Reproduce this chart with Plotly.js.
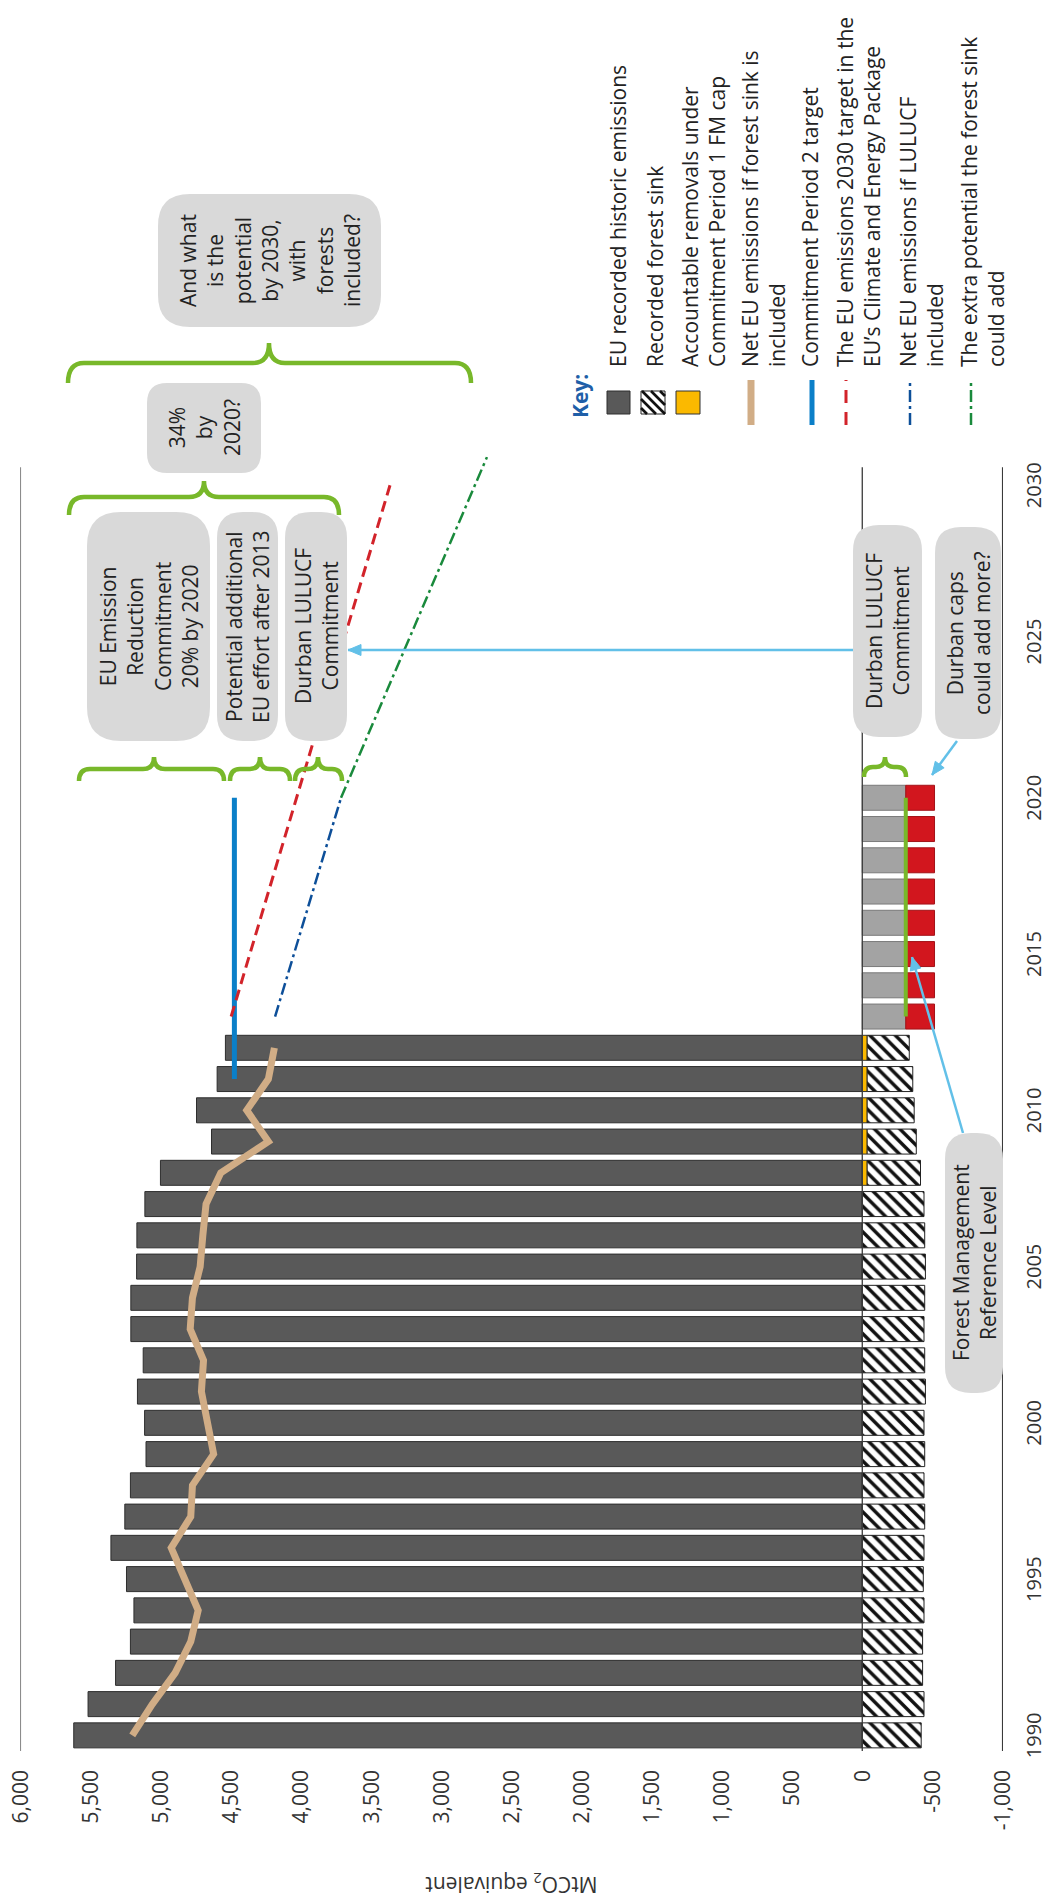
<!DOCTYPE html>
<html><head><meta charset="utf-8">
<script src="https://cdn.plot.ly/plotly-3.0.1.min.js"></script>
<style>
html,body{margin:0;padding:0;width:1057px;height:1899px;overflow:hidden;background:#fff;}
#wrap{position:absolute;left:0;top:1899px;width:1899px;height:1057px;transform-origin:0 0;transform:rotate(-90deg);}
#chart{width:1899px;height:1057px;}
</style></head><body><div id="wrap"><div id="chart"></div></div>
<script>
// ---------------- DATA ----------------
const years = [1990,1991,1992,1993,1994,1995,1996,1997,1998,1999,2000,2001,2002,2003,2004,2005,2006,2007,2008,2009,2010,2011,2012];
const emissions = [5620,5518,5322,5216,5191,5244,5355,5256,5216,5105,5115,5166,5125,5213,5213,5172,5170,5113,5002,4638,4745,4598,4539];
const forestSink = [-420,-440,-430,-430,-440,-435,-440,-445,-440,-445,-440,-450,-445,-440,-445,-450,-445,-440,-380,-350,-335,-325,-300];
const capYears = [2008,2009,2010,2011,2012];
const capRemovals = [-35,-35,-35,-35,-35];
const netEmissions = [5203,5060,4897,4786,4733,4827,4925,4786,4774,4623,4663,4710,4695,4790,4774,4719,4700,4677,4572,4233,4387,4233,4190];
const cp2Years = [2011,2020];
const cp2Target = [4475,4475];
const target2030Years = [2013,2030];
const target2030 = [4498,3366];
const lulucfYears = [2013,2020];
const lulucfNet = [4185,3715];
const extraYears = [2020,2030.9];
const extraPotential = [3715,2675];
const futureYears = [2013,2014,2015,2016,2017,2018,2019,2020];
const durbanCommitment = [-310,-310,-310,-310,-310,-310,-310,-310];
const durbanCaps = [-205,-205,-205,-205,-205,-205,-205,-205];
const fmrlLevel = [-310,-310,-310,-310,-310,-310,-310,-310];
const valueTicks = [-1000,-500,0,500,1000,1500,2000,2500,3000,3500,4000,4500,5000,5500,6000];
const valueTickLabels = ['-1,000','-500','0','500','1,000','1,500','2,000','2,500','3,000','3,500','4,000','4,500','5,000','5,500','6,000'];
const yearTicks = [1990,1995,2000,2005,2010,2015,2020,2025,2030];
const yearTickLabels = ['1990','1995','2000','2005','2010','2015','2020','2025','2030'];

// ---------------- GEOMETRY HELPERS (unrotated frame) ----------------
const FW=1899, FH=1057, ML=148, MR=454, MT=20, MB=54;
const PL=ML, PR=FW-MR, PT=MT, PB=FH-MB;
const px = u => (u-PL)/(PR-PL);
const py = v => (PB-v)/(PB-PT);
const P = (u,v) => px(u).toFixed(5)+','+py(v).toFixed(5);
const FONT = 'Open Sans, Noto Sans, sans-serif';
const TXT = '#222222';
const GREEN = '#78b82a';

function roundRect(u0,v0,u1,v1,r){
  return 'M'+P(u0+r,v0)+' L'+P(u1-r,v0)+' Q'+P(u1,v0)+' '+P(u1,v0+r)+
    ' L'+P(u1,v1-r)+' Q'+P(u1,v1)+' '+P(u1-r,v1)+' L'+P(u0+r,v1)+
    ' Q'+P(u0,v1)+' '+P(u0,v1-r)+' L'+P(u0,v0+r)+' Q'+P(u0,v0)+' '+P(u0+r,v0)+' Z';
}
function brace(v0,v1,vt,uEnd,uStr,uTip,r){
  return 'M'+P(uEnd,v0)+' Q'+P(uStr,v0)+' '+P(uStr,v0+r)+
    ' L'+P(uStr,vt-r)+' Q'+P(uStr,vt)+' '+P(uTip,vt)+
    ' Q'+P(uStr,vt)+' '+P(uStr,vt+r)+
    ' L'+P(uStr,v1-r)+' Q'+P(uStr,v1)+' '+P(uEnd,v1);
}

// ---------------- TRACES ----------------
const traces = [
  {type:'bar', x:years, y:emissions, width:0.8, marker:{color:'#595959', line:{color:'#2e2e2e', width:1}}, name:'EU recorded historic emissions'},
  {type:'bar', x:capYears, y:capRemovals, width:0.8, marker:{color:'#fbb900', line:{color:'#333', width:1}}, name:'Accountable removals'},
  {type:'bar', x:years, y:forestSink, width:0.8, marker:{color:'#ffffff', line:{color:'#222', width:1},
     pattern:{shape:'/', fgcolor:'#111111', bgcolor:'#ffffff', size:9, solidity:0.38, fillmode:'replace'}}, name:'Recorded forest sink'},
  {type:'bar', x:futureYears, y:durbanCommitment, width:0.8, marker:{color:'#a3a3a3', line:{color:'#7a7a7a', width:1}}, name:'Durban LULUCF Commitment'},
  {type:'bar', x:futureYears, y:durbanCaps, width:0.8, marker:{color:'#d2161e', line:{color:'#a31218', width:1}}, name:'Durban caps'},
  {type:'scatter', mode:'lines', x:years, y:netEmissions, line:{color:'#d1ad86', width:7}, name:'Net EU emissions'},
  {type:'scatter', mode:'lines', x:cp2Years, y:cp2Target, line:{color:'#0b7fc8', width:5}, name:'CP2 target'},
  {type:'scatter', mode:'lines', x:target2030Years, y:target2030, line:{color:'#d2232a', width:3, dash:'11px,6px'}, name:'2030 target'},
  {type:'scatter', mode:'lines', x:lulucfYears, y:lulucfNet, line:{color:'#0d4f99', width:2.5, dash:'12px,4px,3px,4px'}, name:'LULUCF'},
  {type:'scatter', mode:'lines', x:extraYears, y:extraPotential, line:{color:'#1a8a3c', width:2.5, dash:'12px,4px,3px,4px'}, name:'Extra potential'},
  {type:'scatter', mode:'lines', x:futureYears, y:fmrlLevel, line:{color:GREEN, width:4}, name:'FMRL'}
];

// ---------------- SHAPES ----------------
const shapes = [];
const xEnd = 2030.58;
shapes.push({type:'line', xref:'x', yref:'y', x0:1989.5, x1:xEnd, y0:6000, y1:6000, line:{color:'#8c8c8c', width:1.3}});
shapes.push({type:'line', xref:'x', yref:'y', x0:1989.5, x1:xEnd, y0:0, y1:0, line:{color:'#3a3a3a', width:1.3}, layer:'above'});
shapes.push({type:'line', xref:'x', yref:'y', x0:1989.5, x1:xEnd, y0:-1000, y1:-1000, line:{color:'#3a3a3a', width:1.3}});

const BUB = '#d9d9d9';
const bubbles = [
  [1572,158,1705,381,32],
  [1426,147,1516,261,20],
  [1158,87,1387,210,34],
  [1158,217,1387,278,26],
  [1158,285,1387,347,26],
  [1162,853,1374,922,26],
  [1160,935,1372,1001,26],
  [506,945,766,1003,26]
];
bubbles.forEach(b=>shapes.push({type:'path', xref:'paper', yref:'paper', path:roundRect(b[0],b[1],b[2],b[3],b[4]), fillcolor:BUB, line:{width:0}, layer:'above'}));

const braces = [
  [68,471,269,1516,1536,1556,16],
  [69,339,204,1384,1402,1418,15],
  [79,224,154,1118,1130,1142,11],
  [230,290,260,1118,1130,1142,10],
  [295,342,318,1118,1130,1142,10],
  [864,906,885,1122,1132,1142,9]
];
braces.forEach(b=>shapes.push({type:'path', xref:'paper', yref:'paper', path:brace(b[0],b[1],b[2],b[3],b[4],b[5],b[6]), line:{color:GREEN, width:4.5}, layer:'above'}));

const ARW = '#62c0e8';
function arrow(uh,vh,ut,vt){
  shapes.push({type:'path', xref:'paper', yref:'paper', path:'M'+P(ut,vt)+' L'+P(uh,vh), line:{color:ARW, width:2.5}, layer:'above'});
  const dx=uh-ut, dy=vh-vt, len=Math.hypot(dx,dy), ux=dx/len, uy=dy/len, nx=-uy, ny=ux, L=13, w=5.5;
  const bu=uh-ux*L, bv=vh-uy*L;
  shapes.push({type:'path', xref:'paper', yref:'paper', path:'M'+P(uh,vh)+' L'+P(bu+nx*w,bv+ny*w)+' L'+P(bu-nx*w,bv-ny*w)+' Z',
    fillcolor:ARW, line:{color:ARW, width:1}, layer:'above'});
}
arrow(1249,348,1249,853);
arrow(1124,932,1158,957);
arrow(942,912,766,963);

// legend swatches
shapes.push({type:'rect', xref:'paper', yref:'paper', x0:px(1485), x1:px(1508), y0:py(607), y1:py(630), fillcolor:'#595959', line:{color:'#2e2e2e', width:1}});
shapes.push({type:'rect', xref:'paper', yref:'paper', x0:px(1485), x1:px(1508), y0:py(641), y1:py(665), fillcolor:'#ffffff', line:{color:'#222', width:1}});
(function(){
  const u0=1485,u1=1508,v0=641,v1=665;
  for(let c=u0+v0+6;c<u1+v1;c+=9){
    const ua=Math.max(u0,c-v1), ub=Math.min(u1,c-v0);
    if(ub-ua<1) continue;
    shapes.push({type:'line', xref:'paper', yref:'paper', x0:px(ua), y0:py(c-ua), x1:px(ub), y1:py(c-ub), line:{color:'#111', width:2.6}});
  }
})();
shapes.push({type:'rect', xref:'paper', yref:'paper', x0:px(1485), x1:px(1508), y0:py(676), y1:py(700), fillcolor:'#fbb900', line:{color:'#333', width:1}});
const legLines = [
  [751,'#d1ad86',7,'solid'],
  [812,'#0b7fc8',5,'solid'],
  [846,'#d2232a',3,'13px,9px'],
  [910,'#0d4f99',2.5,'12px,4px,3px,4px'],
  [971,'#1a8a3c',2.5,'12px,4px,3px,4px']
];
legLines.forEach(l=>shapes.push({type:'line', xref:'paper', yref:'paper', x0:px(1474), x1:px(1519), y0:py(l[0]), y1:py(l[0]), line:{color:l[1], width:l[2], dash:l[3]}}));

// ---------------- ANNOTATIONS ----------------
const ann = [];
function txt(u,v,text,opt){
  opt = opt||{};
  ann.push(Object.assign({xref:'paper', yref:'paper', x:px(u), y:py(v), text:text, showarrow:false,
    xanchor:'center', yanchor:'middle', align:'center', font:{family:FONT, size:21, color:TXT}}, opt));
}
txt(1638.5,269.5,'And what<br>is the<br>potential<br>by 2030,<br>with<br>forests<br>included?');
txt(1471,204,'34%<br>by<br>2020?');
txt(1272.5,148.5,'EU Emission<br>Reduction<br>Commitment<br>20% by 2020');
txt(1272.5,247.5,'Potential additional<br>EU effort after 2013');
txt(1272.5,316,'Durban LULUCF<br>Commitment');
txt(1268,887.5,'Durban LULUCF<br>Commitment');
txt(1266,968,'Durban caps<br>could add more?');
txt(636,974,'Forest Management<br>Reference Level');

txt(1479,580,'<b>Key:</b>',{xanchor:'left', font:{family:FONT, size:21, color:'#1f5fa8'}});
const LH = 27.3;
const legendItems = [
  [617,'EU recorded historic emissions'],
  [654,'Recorded forest sink'],
  [689,'Accountable removals under<br>Commitment Period 1 FM cap'],
  [749,'Net EU emissions if forest sink is<br>included'],
  [809,'Commitment Period 2 target'],
  [844,'The EU emissions 2030 target in the<br>EU\u2019s Climate and Energy Package'],
  [907,'Net EU emissions if LULUCF<br>included'],
  [968,'The extra potential the forest sink<br>could add']
];
legendItems.forEach(it=>txt(1530,it[0]-LH/2-1,it[1],{xanchor:'left', yanchor:'top', align:'left'}));

// ---------------- LAYOUT ----------------
const layout = {
  width:FW, height:FH, autosize:false,
  margin:{l:ML, r:MR, t:MT, b:MB, pad:0},
  paper_bgcolor:'#ffffff', plot_bgcolor:'#ffffff',
  font:{family:FONT, size:21, color:TXT},
  showlegend:false,
  barmode:'relative',
  xaxis:{range:[1989.5,2031], tickvals:yearTicks, ticktext:yearTickLabels, showgrid:false, zeroline:false, showline:false,
    ticks:'', ticklabelstandoff:17, tickfont:{family:FONT, size:20, color:'#333'}, automargin:false, fixedrange:true},
  yaxis:{range:[-1003,6003], tickvals:valueTicks, ticktext:valueTickLabels, showgrid:false, zeroline:false, showline:false,
    ticks:'', ticklabelstandoff:18, tickfont:{family:FONT, size:21, color:'#333'}, automargin:false, fixedrange:true,
    title:{text:'MtCO<sub>2</sub> equivalent', standoff:46, font:{family:FONT, size:21, color:'#333'}}},
  shapes:shapes,
  annotations:ann
};
Plotly.newPlot('chart', traces, layout, {staticPlot:true, displayModeBar:false});
</script></body></html>
